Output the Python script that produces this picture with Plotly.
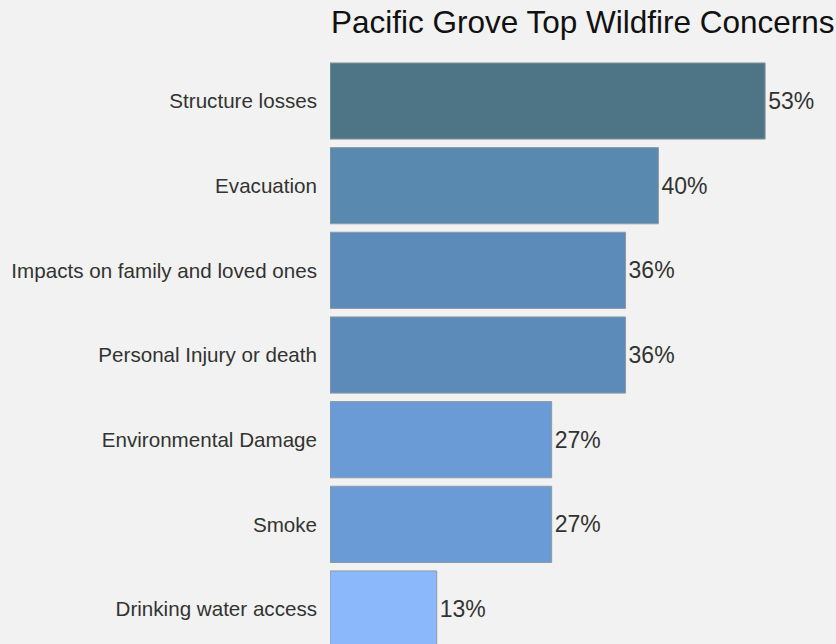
import plotly.graph_objects as go

categories = ["Structure losses", "Evacuation", "Impacts on family and loved ones",
              "Personal Injury or death", "Environmental Damage", "Smoke",
              "Drinking water access"]
values = [53, 40, 36, 36, 27, 27, 13]
labels = ["53%", "40%", "36%", "36%", "27%", "27%", "13%"]
colors = ["#4e7585", "#5a89b0", "#5c8bba", "#5c8bba", "#6a9bd6", "#6a9bd6", "#8ab8fa"]

fig = go.Figure(go.Bar(
    x=values, y=categories, orientation="h",
    text=labels, textposition="outside",
    textfont=dict(size=23, color="#333333", family="Liberation Sans, Arial"),
    marker=dict(color=colors, line=dict(color="#8f9aa3", width=1)),
    width=0.9, cliponaxis=False,
))

fig.update_layout(
    width=836, height=644,
    paper_bgcolor="#f2f2f2", plot_bgcolor="#f2f2f2",
    margin=dict(l=330, r=0, t=0, b=0),
    showlegend=False,
    title=dict(text="Pacific Grove Top Wildfire Concerns", x=331/836, xanchor="left",
               y=1 - 22/644, yanchor="middle", yref="container", xref="container",
               font=dict(size=31.5, color="#111111", family="Liberation Sans, Arial")),
    xaxis=dict(range=[0, 506/8.21], visible=False, showgrid=False, zeroline=False),
    yaxis=dict(categoryorder="array", categoryarray=categories,
               range=[6.413, -1.193], showgrid=False, zeroline=False,
               ticks="", ticklabelstandoff=12,
               tickfont=dict(size=20.6, color="#333333", family="Liberation Sans, Arial")),
)

fig.write_html("out.html", config={"displayModeBar": False},
               post_script="document.body.style.margin='0';document.body.style.background='#f2f2f2';")
